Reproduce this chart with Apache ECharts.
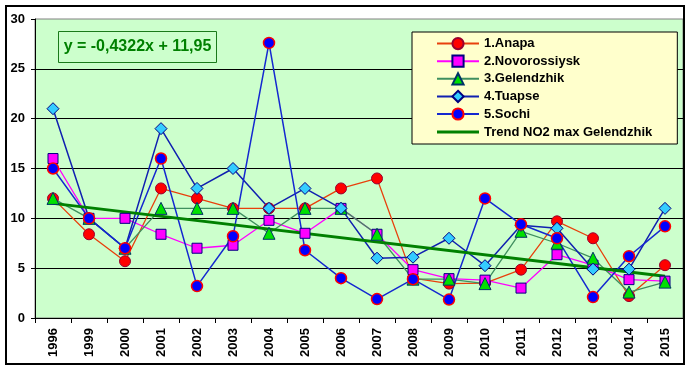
<!DOCTYPE html>
<html>
<head>
<meta charset="utf-8">
<script src="https://cdn.jsdelivr.net/npm/echarts@6.0.0/dist/echarts.min.js"></script>
<style>
html,body{margin:0;padding:0;background:#fff;}
#chart{width:689px;height:372px;}
</style>
</head>
<body>
<div id="chart"></div>
<script>
const years = ['1996','1999','2000','2001','2002','2003','2004','2005','2006','2007','2008','2009','2010','2011','2012','2013','2014','2015'];
const anapa       = [12, 8.4, 5.7, 13, 12, 11, 11, 11, 13, 14, 4.0, 3.45, 3.5, 4.85, 9.7, 8.0, 2.2, 5.3];
const novorossiysk= [16, 10, 10, 8.4, 7.0, 7.3, 9.8, 8.5, 11, 8.4, 4.85, 3.95, 3.8, 3.0, 6.35, 5.3, 3.85, 3.7];
const gelendzhik  = [12, 10, 7, 11, 11, 11, 8.5, 11, 11, 8.4, 3.9, 3.9, 3.45, 8.7, 7.5, 6.0, 2.6, 3.6];
const tuapse      = [21, 10, 7, 19, 13, 15, 11, 13, 11, 6, 6.1, 8, 5.25, 9.3, 9.0, 4.9, 4.9, 11];
const sochi       = [15, 10, 7, 16, 3.2, 8.2, 27.6, 6.8, 4.0, 1.9, 3.9, 1.85, 12, 9.4, 8.0, 2.1, 6.2, 9.2];
const trendStart = 11.5;
const trendEnd = 4.2;
const equationText = 'y = -0,4322x + 11,95';
const seriesNames = ['1.Anapa','2.Novorossiysk','3.Gelendzhik','4.Tuapse','5.Sochi','Trend NO2 max Gelendzhik'];

const FONT = 'Arial, "Liberation Sans", sans-serif';
const chart = echarts.init(document.getElementById('chart'), null, {renderer:'canvas'});

function lineSeries(name, data, lineColor, symbol, size, fill, border, lw, bw) {
  return {
    name, type:'line', data, symbol, symbolSize:size,
    lineStyle:{color:lineColor, width:lw},
    itemStyle:{color:fill, borderColor:border, borderWidth:bw},
    emphasis:{disabled:true}, animation:false
  };
}

const legendData = seriesNames.slice(0,5).map(n => ({name:n}));
legendData.push({name:seriesNames[5], icon:'path://M0,0L0,0M0,14L0,14M0,5.5L42,5.5L42,8.5L0,8.5Z'});

chart.setOption({
  animation:false,
  backgroundColor:'#ffffff',
  grid:{left:35, top:19, right:6, bottom:54, containLabel:false, outerBoundsMode:'none',
        show:true, backgroundColor:'#CCFFCC', borderColor:'#808080', borderWidth:1},
  xAxis:{
    type:'category', data:years, boundaryGap:true,
    axisLine:{show:true, lineStyle:{color:'#000', width:1}},
    axisTick:{show:true, length:5, lineStyle:{color:'#000'}},
    axisLabel:{rotate:90, margin:10, interval:0, color:'#000', fontWeight:'bold', fontSize:13, fontFamily:FONT},
    splitLine:{show:false}
  },
  yAxis:{
    type:'value', min:0, max:30, interval:5,
    axisLine:{show:true, lineStyle:{color:'#000', width:1}},
    axisTick:{show:true, length:4, lineStyle:{color:'#000'}},
    axisLabel:{margin:10, color:'#000', fontWeight:'bold', fontSize:13, fontFamily:FONT},
    splitLine:{show:true, showMaxLine:false, lineStyle:{color:'#000', width:1}}
  },
  legend:{
    orient:'vertical', left:412, top:32,
    itemWidth:42, itemHeight:14, itemGap:4.4,
    padding:[5,25,5,24],
    backgroundColor:'#FFFFCC', borderColor:'#000', borderWidth:1,
    data:legendData,
    textStyle:{color:'#000', fontWeight:'bold', fontSize:13, fontFamily:FONT},
    selectedMode:false
  },
  series:[
    lineSeries(seriesNames[0], anapa, '#E8400C', 'circle', 11, '#FF0000', '#99002E', 1.3, 1),
    lineSeries(seriesNames[1], novorossiysk, '#FF00FF', 'rect', 10, '#FF00FF', '#000080', 1.3, 1),
    lineSeries(seriesNames[2], gelendzhik, '#3F8F5F', 'triangle', 12, '#00E000', '#003366', 1.3, 1),
    lineSeries(seriesNames[3], tuapse, '#1020B0', 'diamond', 12, '#33CCFF', '#000080', 1.5, 1),
    lineSeries(seriesNames[4], sochi, '#1428D0', 'circle', 11, '#0000FF', '#FF0000', 1.5, 1.5),
    {
      name:seriesNames[5], type:'line', symbol:'none',
      data:[[0, trendStart],[years.length-1, trendEnd]],
      lineStyle:{color:'#008000', width:3},
      itemStyle:{color:'#008000'},
      emphasis:{disabled:true}, z:3
    }
  ],
  graphic:[
    {type:'rect', shape:{x:6, y:6, width:678, height:358}, style:{fill:'none', stroke:'#000', lineWidth:2}, silent:true, z:100},
    {type:'rect', shape:{x:58.5, y:31.5, width:158, height:31}, style:{fill:'none', stroke:'#1A7A1A', lineWidth:1}, silent:true, z:100},
    {type:'text', x:137.5, y:47, style:{text:equationText, fill:'#008000', font:'bold 16px Arial, "Liberation Sans", sans-serif', align:'center', verticalAlign:'middle'}, silent:true, z:100}
  ]
});
</script>
</body>
</html>
